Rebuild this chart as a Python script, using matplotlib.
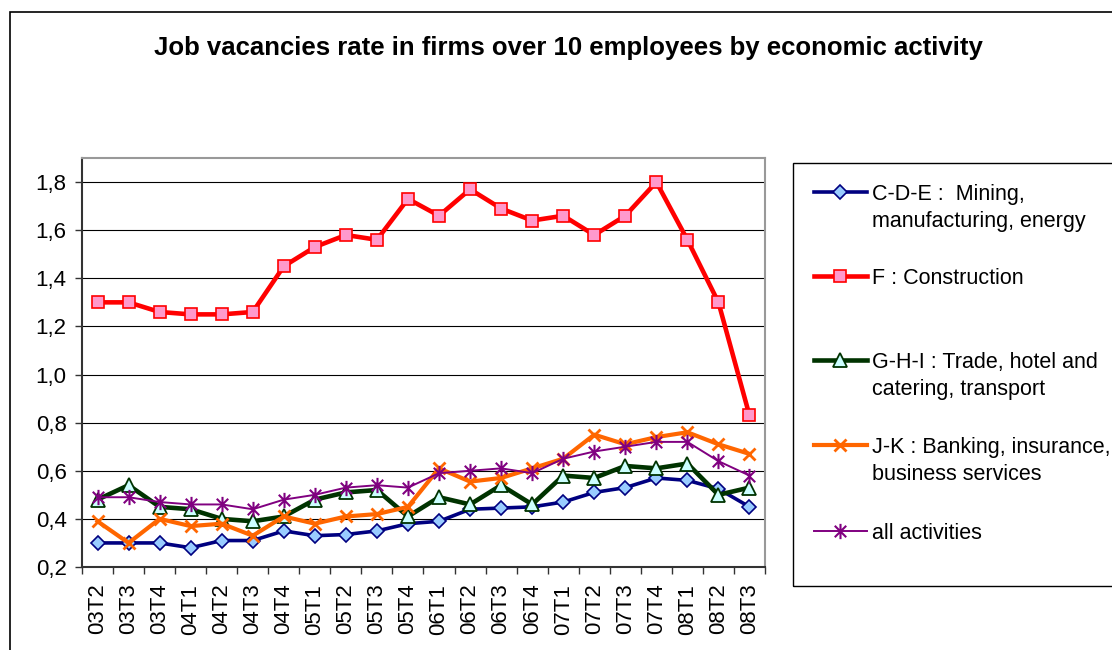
import numpy as np
import matplotlib
matplotlib.use("Agg")
import matplotlib.pyplot as plt
from matplotlib.lines import Line2D
from matplotlib.patches import Rectangle
from matplotlib.path import Path
from matplotlib.ticker import FuncFormatter, FixedLocator

plt.rcParams['font.family'] = ['Liberation Sans', 'DejaVu Sans']

quarters = ['03T2', '03T3', '03T4', '04T1', '04T2', '04T3', '04T4', '05T1', '05T2', '05T3', '05T4',
            '06T1', '06T2', '06T3', '06T4', '07T1', '07T2', '07T3', '07T4', '08T1', '08T2', '08T3']

cde = [0.30, 0.30, 0.30, 0.28, 0.31, 0.31, 0.35, 0.33, 0.335, 0.35, 0.38,
       0.39, 0.44, 0.445, 0.45, 0.47, 0.51, 0.53, 0.57, 0.56, 0.525, 0.45]
constr = [1.30, 1.30, 1.26, 1.25, 1.25, 1.26, 1.45, 1.53, 1.58, 1.56, 1.73,
          1.66, 1.77, 1.69, 1.64, 1.66, 1.58, 1.66, 1.80, 1.56, 1.30, 0.83]
ghi = [0.48, 0.54, 0.45, 0.44, 0.40, 0.39, 0.41, 0.48, 0.51, 0.52, 0.41,
       0.49, 0.46, 0.54, 0.46, 0.58, 0.57, 0.62, 0.61, 0.63, 0.50, 0.53]
jk = [0.39, 0.30, 0.40, 0.37, 0.38, 0.33, 0.41, 0.38, 0.41, 0.42, 0.45,
      0.61, 0.555, 0.57, 0.61, 0.65, 0.75, 0.71, 0.74, 0.76, 0.71, 0.67]
all_act = [0.49, 0.49, 0.47, 0.46, 0.46, 0.44, 0.48, 0.50, 0.53, 0.54, 0.53,
           0.59, 0.60, 0.61, 0.59, 0.65, 0.68, 0.70, 0.72, 0.72, 0.64, 0.58]

labels = ['C-D-E :  Mining,\nmanufacturing, energy',
          'F : Construction',
          'G-H-I : Trade, hotel and\ncatering, transport',
          'J-K : Banking, insurance,\nbusiness services',
          'all activities']

# excel style asterisk: vertical bar + x
star = Path([(0, -1), (0, 1), (-0.75, -0.75), (0.75, 0.75), (-0.75, 0.75), (0.75, -0.75)],
            [Path.MOVETO, Path.LINETO, Path.MOVETO, Path.LINETO, Path.MOVETO, Path.LINETO])

styles = [
    dict(color='#000080', lw=2.6, marker='D', ms=7, mfc='#99CCFF', mec='#000080', mew=1.2),
    dict(color='#FF0000', lw=3.3, marker='s', ms=8.5, mfc='#FF99CC', mec='#FF0000', mew=1.2),
    dict(color='#003300', lw=3.3, marker='^', ms=10, mfc='#CCFFFF', mec='#003300', mew=1.3),
    dict(color='#FF6600', lw=3.0, marker='x', ms=9, mfc='#FF6600', mec='#FF6600', mew=2.0),
    dict(color='#800080', lw=1.4, marker=star, ms=11, mfc='#800080', mec='#800080', mew=1.5),
]
series = [cde, constr, ghi, jk, all_act]

W, H = 1112, 650
fig = plt.figure(figsize=(W / 100, H / 100), dpi=100)

# outer chart frame (cut off on the right and bottom)
fig.add_artist(Rectangle((10 / W, -0.05), 1.2, 1 - 12 / H + 0.05, transform=fig.transFigure,
                         fill=False, ec='black', lw=1.2))

ax = fig.add_axes([82 / W, 1 - 567 / H, (765 - 82) / W, (567 - 158) / H])
x = np.arange(len(quarters))
for vals, st in zip(series, styles):
    ax.plot(x, vals, **st)

ax.set_xlim(-0.5, len(quarters) - 0.5)
ax.set_ylim(0.2, 1.9)
ax.set_yticks(np.arange(0.2, 1.81, 0.2))
ax.yaxis.set_major_formatter(FuncFormatter(lambda v, p: f'{v:.1f}'.replace('.', ',')))
ax.grid(axis='y', color='black', lw=0.8)
ax.set_axisbelow(True)

ax.xaxis.set_major_locator(FixedLocator(np.arange(-0.5, len(quarters), 1.0)))
ax.xaxis.set_minor_locator(FixedLocator(x))
ax.set_xticklabels([], minor=False)
ax.set_xticklabels(quarters, minor=True, rotation=90)
ax.tick_params(axis='x', which='major', direction='out', length=5, width=1, color='#333333')
ax.tick_params(axis='x', which='minor', length=0, labelsize=16, pad=12)
ax.tick_params(axis='y', direction='out', length=5, width=1, color='#333333', labelsize=16, pad=6)

for s in ['left', 'bottom']:
    ax.spines[s].set_color('#333333')
    ax.spines[s].set_linewidth(1.5)
for s in ['top', 'right']:
    ax.spines[s].set_color('#999999')
    ax.spines[s].set_linewidth(1.5)

fig.text(568 / W, 1 - 48 / H, 'Job vacancies rate in firms over 10 employees by economic activity',
         ha='center', va='center', fontsize=18.5, fontweight='bold')

# legend drawn by hand so the handle sits on the first text line
fig.add_artist(Rectangle((793 / W, 1 - 586 / H), 0.5, (586 - 163) / H, transform=fig.transFigure,
                         fill=False, ec='black', lw=1.0))
handle_y = [192, 276, 360, 445, 531]
for lab, st, hy in zip(labels, styles, handle_y):
    yf = 1 - hy / H
    fig.add_artist(Line2D([814 / W, 867 / W], [yf, yf], transform=fig.transFigure,
                          color=st['color'], lw=st['lw']))
    fig.add_artist(Line2D([840 / W], [yf], transform=fig.transFigure, ls='none',
                          marker=st['marker'], ms=st['ms'], mfc=st['mfc'], mec=st['mec'], mew=st['mew']))
    fig.text(872 / W, 1 - (hy - 8) / H, lab, ha='left', va='top', fontsize=15.5, linespacing=1.38)

fig.savefig('out.png', dpi=100)
